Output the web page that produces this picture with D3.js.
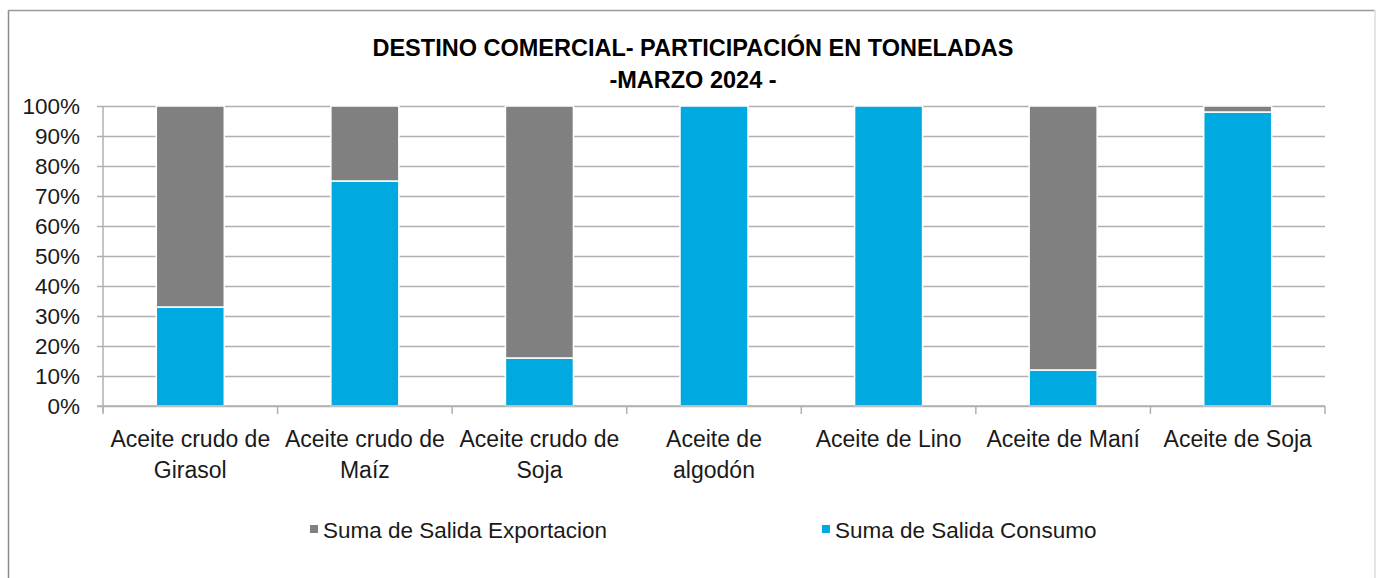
<!DOCTYPE html>
<html>
<head>
    <meta charset="utf-8">
    <script src="https://d3js.org/d3.v7.min.js"></script>
    <style>
        body { margin: 0; background: #fff; }
        text { font-family: "Liberation Sans", Arial, sans-serif; fill: #1a1a1a; }
    </style>
</head>
<body>
    <div id="chart"></div>

    <script>
        // data (percent of tonnes)
        const categories = [
            ["Aceite crudo de", "Girasol"],
            ["Aceite crudo de", "Maíz"],
            ["Aceite crudo de", "Soja"],
            ["Aceite de", "algodón"],
            ["Aceite de Lino"],
            ["Aceite de Maní"],
            ["Aceite de Soja"]
        ];
        const consumo = [33, 75, 16, 100, 100, 12, 98];
        const exportacion = [67, 25, 84, 0, 0, 88, 2];
        const yTicks = [0, 10, 20, 30, 40, 50, 60, 70, 80, 90, 100];
        const seriesNames = ["Suma de Salida Exportacion", "Suma de Salida Consumo"];
        const titleLines = ["DESTINO COMERCIAL- PARTICIPACIÓN EN TONELADAS", "-MARZO 2024 -"];

        const W = 1376, H = 578;
        const plot = { left: 103, right: 1325, top: 106, bottom: 406 };
        const colors = { exp: "#808080", con: "#00a9e0" };

        const svg = d3.select("#chart").append("svg")
            .attr("width", W)
            .attr("height", H);

        // outer border
        svg.append("line").attr("x1", 8.5).attr("y1", 10).attr("x2", 8.5).attr("y2", H)
            .attr("stroke", "#8c8c8c").attr("stroke-width", 1.5);
        svg.append("line").attr("x1", 8).attr("y1", 10.5).attr("x2", 1375).attr("y2", 10.5)
            .attr("stroke", "#9a9a9a").attr("stroke-width", 1.5);
        svg.append("line").attr("x1", 1375).attr("y1", 10).attr("x2", 1375).attr("y2", H)
            .attr("stroke", "#dcdcdc").attr("stroke-width", 1.5);

        // title
        svg.selectAll(".title")
            .data(titleLines)
            .join("text")
            .attr("x", 693)
            .attr("y", (d, i) => 56 + i * 32)
            .attr("text-anchor", "middle")
            .style("font-size", "23.5px")
            .style("font-weight", "bold")
            .style("fill", "#000")
            .text(d => d);

        const x = d3.scaleBand()
            .domain(d3.range(categories.length))
            .range([plot.left, plot.right])
            .paddingInner(0)
            .paddingOuter(0);

        const y = d3.scaleLinear()
            .domain([0, 100])
            .range([plot.bottom, plot.top]);

        // gridlines + y axis labels
        const yAxis = svg.append("g")
            .attr("transform", `translate(${plot.left},0)`)
            .call(d3.axisLeft(y)
                .tickValues(yTicks)
                .tickSize(-(plot.right - plot.left))
                .tickSizeOuter(0)
                .tickPadding(23)
                .tickFormat(d => d + "%"));
        yAxis.select(".domain").remove();
        yAxis.selectAll(".tick line")
            .attr("x1", -6)
            .attr("stroke", "#b0b0b0")
            .attr("stroke-width", 1.5);
        yAxis.selectAll(".tick text")
            .style("font-size", "22.5px")
            .style("font-family", "'Liberation Sans', Arial, sans-serif")
            .attr("fill", "#1a1a1a");

        // y axis line
        svg.append("line")
            .attr("x1", plot.left).attr("x2", plot.left)
            .attr("y1", plot.top).attr("y2", plot.bottom + 6)
            .attr("stroke", "#b0b0b0").attr("stroke-width", 1.5);

        // x axis ticks at band edges
        const edges = d3.range(categories.length + 1).map(i => plot.left + i * x.bandwidth());
        svg.selectAll(".xtick")
            .data(edges)
            .join("line")
            .attr("x1", d => d).attr("x2", d => d)
            .attr("y1", plot.bottom).attr("y2", plot.bottom + 8)
            .attr("stroke", "#b0b0b0").attr("stroke-width", 1.5);

        // bars
        const barW = 68;
        const bars = svg.append("g");
        categories.forEach((c, i) => {
            const cx = x(i) + x.bandwidth() / 2;
            bars.append("rect")
                .attr("x", cx - barW / 2)
                .attr("y", y(consumo[i]))
                .attr("width", barW)
                .attr("height", y(0) - y(consumo[i]))
                .attr("fill", colors.con)
                .attr("stroke", "#fff")
                .attr("stroke-width", 1.5);
            if (exportacion[i] > 0) {
                bars.append("rect")
                    .attr("x", cx - barW / 2)
                    .attr("y", y(consumo[i] + exportacion[i]))
                    .attr("width", barW)
                    .attr("height", y(consumo[i]) - y(consumo[i] + exportacion[i]))
                    .attr("fill", colors.exp)
                    .attr("stroke", "#fff")
                    .attr("stroke-width", 1.5);
            }
        });

        // x axis line on top of bars
        svg.append("line")
            .attr("x1", plot.left - 6).attr("x2", plot.right)
            .attr("y1", plot.bottom).attr("y2", plot.bottom)
            .attr("stroke", "#b0b0b0").attr("stroke-width", 1.5);

        // category labels
        const catG = svg.selectAll(".cat")
            .data(categories)
            .join("text")
            .attr("text-anchor", "middle")
            .style("font-size", "23px")
            .attr("transform", (d, i) => `translate(${x(i) + x.bandwidth() / 2},447)`);
        catG.selectAll("tspan")
            .data(d => d)
            .join("tspan")
            .attr("x", 0)
            .attr("y", (d, i) => i * 31)
            .text(d => d);

        // legend
        const legendItems = [
            { name: seriesNames[0], color: colors.exp, x: 310 },
            { name: seriesNames[1], color: colors.con, x: 822 }
        ];
        const lg = svg.selectAll(".legend")
            .data(legendItems)
            .join("g")
            .attr("transform", d => `translate(${d.x},525)`);
        lg.append("rect")
            .attr("width", 8).attr("height", 8)
            .attr("fill", d => d.color);
        lg.append("text")
            .attr("x", 13).attr("y", 13)
            .style("font-size", "22.5px")
            .text(d => d.name);
    </script>
</body>
</html>
